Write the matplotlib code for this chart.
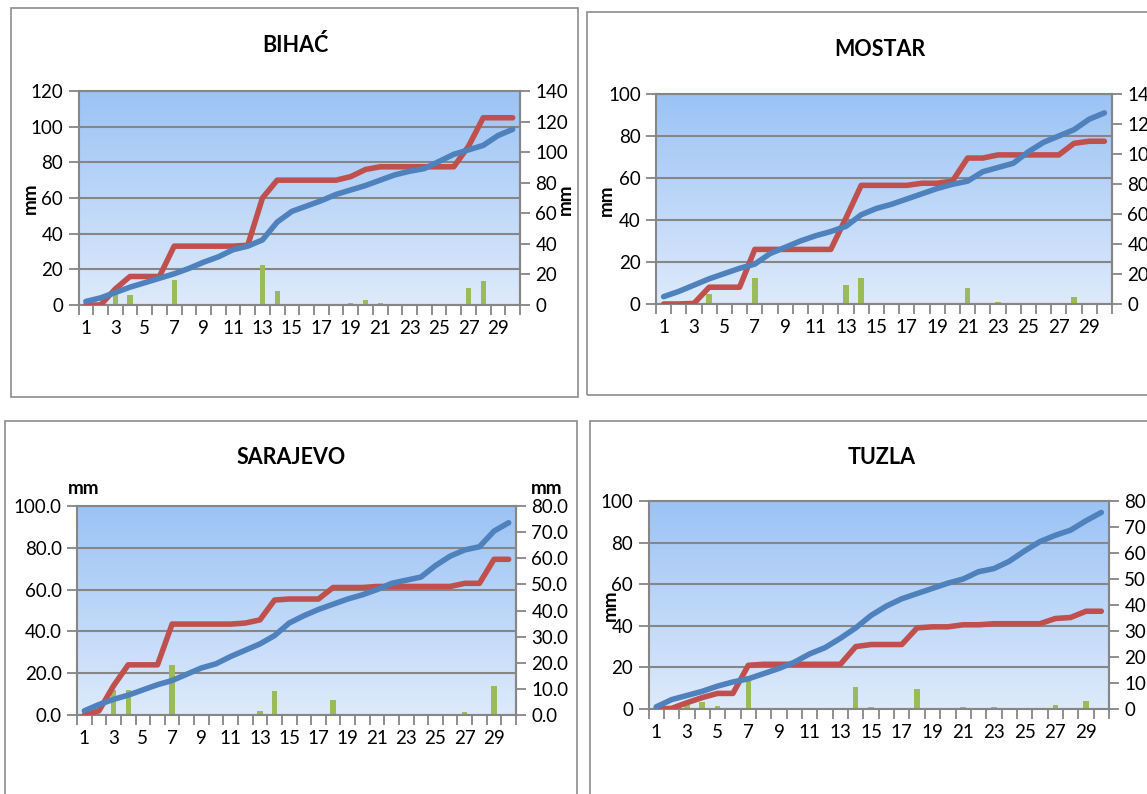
import numpy as np
import matplotlib
matplotlib.use("Agg")
import matplotlib.pyplot as plt
from matplotlib.patches import Rectangle

plt.rcParams['font.family'] = ['Lato', 'DejaVu Sans']

days = list(range(1, 31))

# daily precipitation (bars), cumulative (red), normal cumulative (blue)
bihac_daily = [0, 0, 6, 5.5, 0, 0, 14, 0, 0, 0, 0, 0, 22.5, 8, 0, 0, 0, 0, 1.2, 3, 1, 0, 0, 0, 0, 0, 9.5, 13.5, 0, 0]
bihac_red = [0, 0, 9, 16, 16, 16, 33, 33, 33, 33, 33, 33.5, 60, 70, 70, 70, 70, 70, 72, 76, 77.5, 77.5, 77.5, 77.5, 77.5, 77.5, 89, 105, 105, 105]
bihac_blue = [2, 4, 7, 10, 12.5, 15, 17.5, 20.5, 24, 27, 31, 33, 36.5, 46.5, 52.5, 55.5, 58.5, 62, 64.5, 67, 70, 73, 75, 76.5, 80.5, 84.5, 87, 89.5, 95, 98.5]

mostar_daily = [0, 0, 0, 5, 0, 0, 12.5, 0, 0, 0, 0, 0, 9, 12.5, 0, 0, 0, 0.3, 0, 0.2, 7.5, 0, 0.8, 0, 0, 0, 0, 3.5, 0.3, 0]
mostar_red = [0, 0, 0.3, 8, 8, 8, 26, 26, 26, 26, 26, 26, 41, 56.5, 56.5, 56.5, 56.5, 57.5, 57.5, 58.5, 69.5, 69.5, 71, 71, 71, 71, 71, 76.5, 77.5, 77.5]
mostar_blue = [3.5, 6, 9, 12, 14.5, 17, 19, 24, 27, 30, 32.5, 34.5, 37, 42.5, 45.5, 47.5, 50, 52.5, 55, 57, 58.5, 63, 65, 67, 72.5, 77, 80, 83, 88, 91]

sarajevo_daily = [0, 0.5, 12, 12, 0, 0, 24, 0, 0, 0, 0, 0, 1.8, 11.5, 0.5, 0, 0, 7, 0, 0, 0.3, 0, 0, 0, 0, 0, 1.5, 0, 14, 0]
sarajevo_red = [0, 2, 14, 24, 24, 24, 43.5, 43.5, 43.5, 43.5, 43.5, 44, 45.5, 55, 55.5, 55.5, 55.5, 61, 61, 61, 61.5, 61.5, 61.5, 61.5, 61.5, 61.5, 63, 63, 74.5, 74.5]
sarajevo_blue = [2, 5, 7.5, 9.5, 12, 14.5, 16.5, 19.5, 22.5, 24.5, 28, 31, 34, 38, 44, 47.5, 50.5, 53, 55.5, 57.5, 60, 63, 64.5, 66, 71.5, 76, 79, 80.5, 88, 92]

tuzla_daily = [0, 0, 2, 3.5, 1.5, 0, 16, 0, 0, 0, 0, 0, 0, 10.5, 1, 0, 0, 9.5, 0, 0, 1, 0, 0.8, 0, 0, 0, 2, 0.5, 3.8, 0]
tuzla_red = [0, 0.3, 3, 5.5, 7.5, 7.5, 21, 21.5, 21.5, 21.5, 21.5, 21.5, 21.5, 30, 31, 31, 31, 39, 39.5, 39.5, 40.5, 40.5, 41, 41, 41, 41, 43.5, 44, 47, 47]
tuzla_blue = [1, 4.5, 6.5, 8.5, 11, 13, 14.5, 17, 19.5, 22.5, 26.5, 29.5, 34, 39, 45, 49.5, 53, 55.5, 58, 60.5, 62.5, 66, 67.5, 71, 76, 80.5, 83.5, 86, 90.5, 94.5]

W, H = 1147, 794
GREY = '#868686'
RED = '#C0504D'
BLUE = '#4F81BD'
GREEN = '#9BBB59'
TICK_FS = 13.5

fig = plt.figure(figsize=(W / 100, H / 100), dpi=100)


def px_axes(x0, y0, x1, y1):
    # axes from pixel box (top-left origin)
    return fig.add_axes([x0 / W, 1 - y1 / H, (x1 - x0) / W, (y1 - y0) / H])


def ftext(x, y, s, **kw):
    fig.text(x / W, 1 - y / H, s, **kw)


def draw_panel(box, frame, title, title_xy, daily, red, blue,
               lmax, rmax, rstep, fmt, mm_left, mm_right, mm_rot):
    # outer frame
    fx0, fy0, fx1, fy1 = frame
    fig.patches.append(Rectangle((fx0 / W, 1 - fy1 / H), (fx1 - fx0) / W, (fy1 - fy0) / H,
                                 transform=fig.transFigure, fill=False,
                                 edgecolor='#8C8C8C', lw=1.2))
    ax = px_axes(*box)

    # gradient background
    grad = np.linspace(0, 1, 256).reshape(-1, 1)
    top = np.array([155, 195, 245]) / 255
    bot = np.array([222, 234, 251]) / 255
    img = bot + (top - bot) * grad
    ax.imshow(img[:, None, :].repeat(2, axis=1), extent=(0, 1, 0, 1),
              transform=ax.transAxes, aspect='auto', origin='lower', zorder=0)

    ax.bar(days, daily, width=0.36, color=GREEN, zorder=2)
    ax.plot(days, red, color=RED, lw=4, solid_capstyle='round', zorder=3)
    ax.plot(days, blue, color=BLUE, lw=4, solid_capstyle='round', zorder=4)

    ax.set_xlim(0.5, 30.5)
    ax.set_ylim(0, lmax)
    ax.set_yticks(np.arange(0, lmax + 0.1, 20))
    ax.set_yticklabels([fmt.format(v) for v in np.arange(0, lmax + 0.1, 20)])
    ax.set_xticks(range(1, 31, 2))
    ax.set_xticks(np.arange(0.5, 31, 1), minor=True)
    ax.tick_params(axis='x', which='major', length=0, pad=11, labelsize=TICK_FS)
    ax.tick_params(axis='x', which='minor', length=7, width=1.3, color=GREY)
    ax.tick_params(axis='y', length=7, width=1.3, color=GREY, labelsize=TICK_FS, pad=4)
    ax.grid(axis='y', color=GREY, lw=1.5, zorder=1)
    ax.set_axisbelow(True)
    for s in ['left', 'bottom', 'right', 'top']:
        ax.spines[s].set_color(GREY)
        ax.spines[s].set_linewidth(1.5)

    ax2 = ax.twinx()
    ax2.set_ylim(0, rmax)
    rt = np.arange(0, rmax + 0.01, rstep)
    ax2.set_yticks(rt)
    ax2.set_yticklabels([fmt.format(v) for v in rt])
    ax2.tick_params(axis='y', length=7, width=1.3, color=GREY, labelsize=TICK_FS, pad=4)
    for s in ax2.spines.values():
        s.set_visible(False)
    ax2.spines['right'].set_visible(True)
    ax2.spines['right'].set_color(GREY)
    ax2.spines['right'].set_linewidth(1.5)

    ftext(title_xy[0], title_xy[1], title, ha='center', va='center',
          fontsize=15.5, fontweight='bold')
    ftext(mm_left[0], mm_left[1], 'mm', ha='center', va='center', rotation=mm_rot,
          fontsize=13.5, fontweight='bold')
    ftext(mm_right[0], mm_right[1], 'mm', ha='center', va='center', rotation=mm_rot,
          fontsize=13.5, fontweight='bold')


draw_panel((78.5, 91, 520, 305), (11, 8, 578, 397), 'BIHAĆ', (295, 45),
           bihac_daily, bihac_red, bihac_blue, 120, 140, 20, '{:.0f}',
           (30, 198), (565, 199), 90)
draw_panel((656, 94, 1112, 304), (587, 12, 1160, 395), 'MOSTAR', (880, 49),
           mostar_daily, mostar_red, mostar_blue, 100, 140, 20, '{:.0f}',
           (606, 200), (1151, 200), 90)
draw_panel((77, 506, 516, 715), (5, 421, 577, 800), 'SARAJEVO', (291, 457),
           sarajevo_daily, sarajevo_red, sarajevo_blue, 100, 80, 10, '{:.1f}',
           (84, 489), (547, 489), 0)
draw_panel((648.5, 501, 1109, 709), (590, 421, 1160, 800), 'TUZLA', (882, 458),
           tuzla_daily, tuzla_red, tuzla_blue, 100, 80, 10, '{:.0f}',
           (610, 605), (1151, 605), 90)

fig.savefig('out.png', dpi=100)
